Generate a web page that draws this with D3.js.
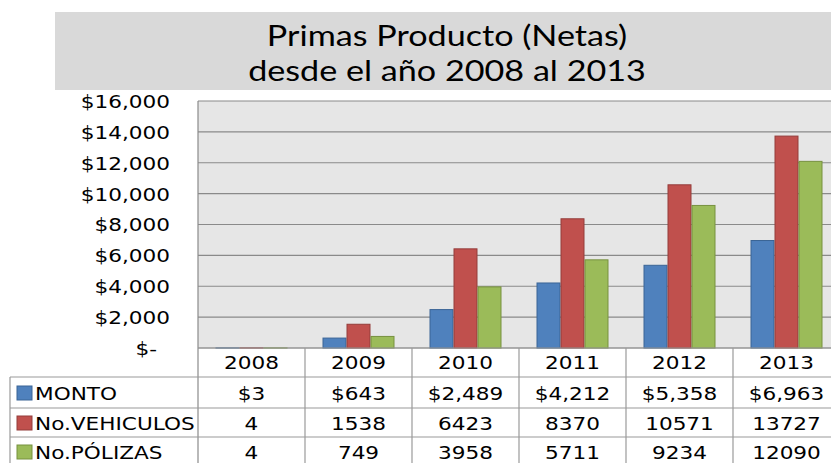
<!DOCTYPE html>
<html><head><meta charset="utf-8">
<script src="https://cdn.jsdelivr.net/npm/d3@7"></script>
<style>
html,body{margin:0;padding:0;background:#fff;}
svg{display:block;}
</style></head>
<body>
<svg id="chart" width="831" height="463"></svg>
<script>
const years = ["2008","2009","2010","2011","2012","2013"];
const seriesNames = ["MONTO","No.VEHICULOS","No.PÓLIZAS"];
const monto = [3,643,2489,4212,5358,6963];
const vehiculos = [4,1538,6423,8370,10571,13727];
const polizas = [4,749,3958,5711,9234,12090];
const yTicks = [0,2000,4000,6000,8000,10000,12000,14000,16000];
const titleLines = ["Primas Producto (Netas)","desde el año 2008 al 2013"];

const colors = ["#4f81bd","#c0504d","#9bbb59"];
const strokes = ["#3b6596","#943c3a","#77913f"];
const series = [monto, vehiculos, polizas];
const fmtMoney = v => "$" + d3.format(",")(v);
const rowFormats = [fmtMoney, v => String(v), v => String(v)];

const svg = d3.select("#chart");
const SX = 1.2;
const FONT = "'DejaVu Sans', Verdana, sans-serif";

function addText(parent, x, y, str, anchor, size, family, sx){
  return parent.append("text")
    .attr("transform", `translate(${x},${y}) scale(${sx},1)`)
    .attr("text-anchor", anchor)
    .attr("font-family", family)
    .attr("font-size", size)
    .attr("fill", "#000")
    .text(str);
}

// Title box
svg.append("rect").attr("x",55).attr("y",12).attr("width",776).attr("height",78).attr("fill","#d9d9d9");
addText(svg, 447, 46, titleLines[0], "middle", 28, "Lato, 'Open Sans', sans-serif", 1.22);
addText(svg, 447, 81, titleLines[1], "middle", 28, "Lato, 'Open Sans', sans-serif", 1.22);

// Plot area
const pLeft = 198, pRight = 840, pTop = 101, pBottom = 348;
const x0 = d3.scaleBand().domain(years).range([pLeft, pRight]).padding(0);
const groupW = 72;
const x1 = d3.scaleBand().domain(d3.range(3)).range([0, groupW]).padding(0);
const y = d3.scaleLinear().domain([0,16000]).range([pBottom, pTop]);

svg.append("rect").attr("x",pLeft).attr("y",pTop).attr("width",pRight-pLeft).attr("height",pBottom-pTop).attr("fill","#e6e6e6");

// gridlines
svg.append("g").selectAll("line").data(yTicks).join("line")
  .attr("x1",pLeft).attr("x2",pRight)
  .attr("y1",d=>y(d)).attr("y2",d=>y(d))
  .attr("stroke","#8a8a8a").attr("stroke-width",1.2);

// left axis line
svg.append("line").attr("x1",pLeft).attr("x2",pLeft).attr("y1",pTop).attr("y2",463).attr("stroke","#8a8a8a").attr("stroke-width",1.2);

// y axis labels
const yAxis = d3.axisLeft(y).tickValues(yTicks).tickSize(0).tickPadding(0)
  .tickFormat(d => d === 0 ? "$-" : fmtMoney(d));
const gy = svg.append("g").attr("transform","translate(170,0)").call(yAxis);
gy.select(".domain").remove();
gy.selectAll("text").each(function(d){
  const t = d3.select(this);
  const dx = d === 0 ? -13 : 0;
  t.attr("x", null).attr("dy", "0.36em")
   .attr("transform", `translate(${dx},0) scale(${SX},1)`)
   .attr("font-family", FONT).attr("font-size", 18).attr("fill","#000");
});

// bars
const groups = svg.append("g").selectAll("g").data(years).join("g")
  .attr("transform", d => `translate(${x0(d) + (x0.bandwidth()-groupW)/2},0)`);
groups.selectAll("rect").data((d,i) => series.map((s,k) => ({k, v: s[i]}))).join("rect")
  .attr("x", d => x1(d.k)+0.5)
  .attr("width", x1.bandwidth()-1)
  .attr("y", d => y(d.v))
  .attr("height", d => Math.max(0, pBottom - y(d.v)))
  .attr("fill", d => colors[d.k])
  .attr("stroke", d => strokes[d.k]).attr("stroke-width", 1);

// Data table
const tableLeft = 10;
const rowLines = [377, 408, 437];
const rowCenters = [393, 423, 452];
const grid = "#9a9a9a";
svg.append("line").attr("x1",pLeft).attr("x2",pRight).attr("y1",pBottom).attr("y2",pBottom).attr("stroke",grid).attr("stroke-width",1.2);
svg.append("g").selectAll("line").data(years.slice(1)).join("line")
  .attr("x1", d => x0(d)).attr("x2", d => x0(d))
  .attr("y1", pBottom).attr("y2", 463)
  .attr("stroke", grid).attr("stroke-width",1.2);
svg.append("line").attr("x1",tableLeft).attr("x2",tableLeft).attr("y1",rowLines[0]).attr("y2",463).attr("stroke",grid).attr("stroke-width",1.2);
svg.append("g").selectAll("line").data(rowLines).join("line")
  .attr("x1", tableLeft).attr("x2", pRight)
  .attr("y1", d => d).attr("y2", d => d)
  .attr("stroke", grid).attr("stroke-width",1.2);

// header years
years.forEach(yr => addText(svg, x0(yr) + x0.bandwidth()/2, 369, yr, "middle", 18, FONT, SX));

// rows
seriesNames.forEach((name, k) => {
  const cy = rowCenters[k];
  svg.append("rect").attr("x",17).attr("y",cy-7).attr("width",15).attr("height",14)
    .attr("fill",colors[k]).attr("stroke",strokes[k]).attr("stroke-width",1);
  addText(svg, 35, cy+6.5, name, "start", 18, FONT, SX);
  years.forEach((yr, i) => addText(svg, x0(yr) + x0.bandwidth()/2, cy+6.5, rowFormats[k](series[k][i]), "middle", 18, FONT, SX));
});
</script>
</body></html>
